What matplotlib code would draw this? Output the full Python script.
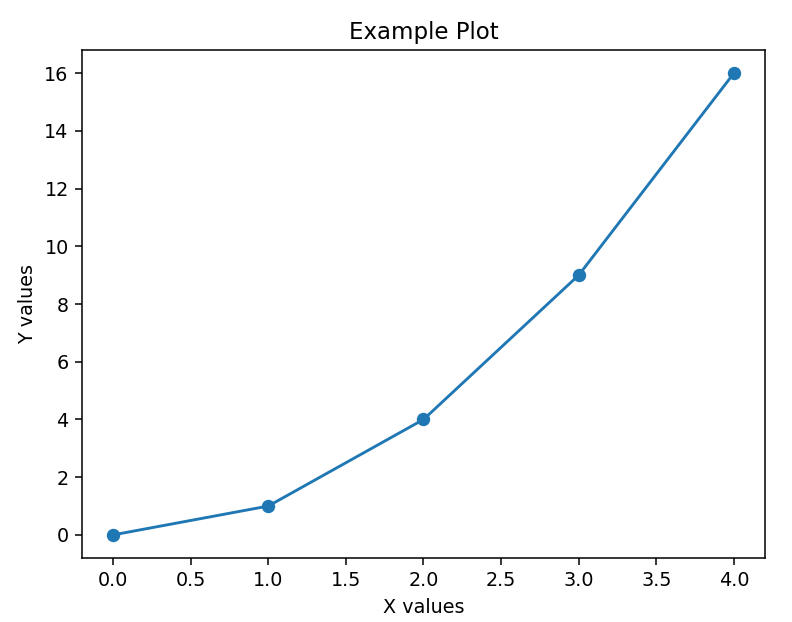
import matplotlib
matplotlib.use('agg')
import matplotlib.pyplot as plt

x = [0, 1, 2, 3, 4]
y = [0, 1, 4, 9, 16]

dpi = 137.5
fig = plt.figure(figsize=(792 / dpi, 622 / dpi), dpi=dpi)
ax = fig.add_axes([82 / 792, 64 / 622, 683 / 792, 508 / 622])
ax.plot(x, y, marker='o')
ax.set_title('Example Plot')
ax.set_xlabel('X values')
ax.set_ylabel('Y values')
fig.savefig('out.png', dpi=dpi)
